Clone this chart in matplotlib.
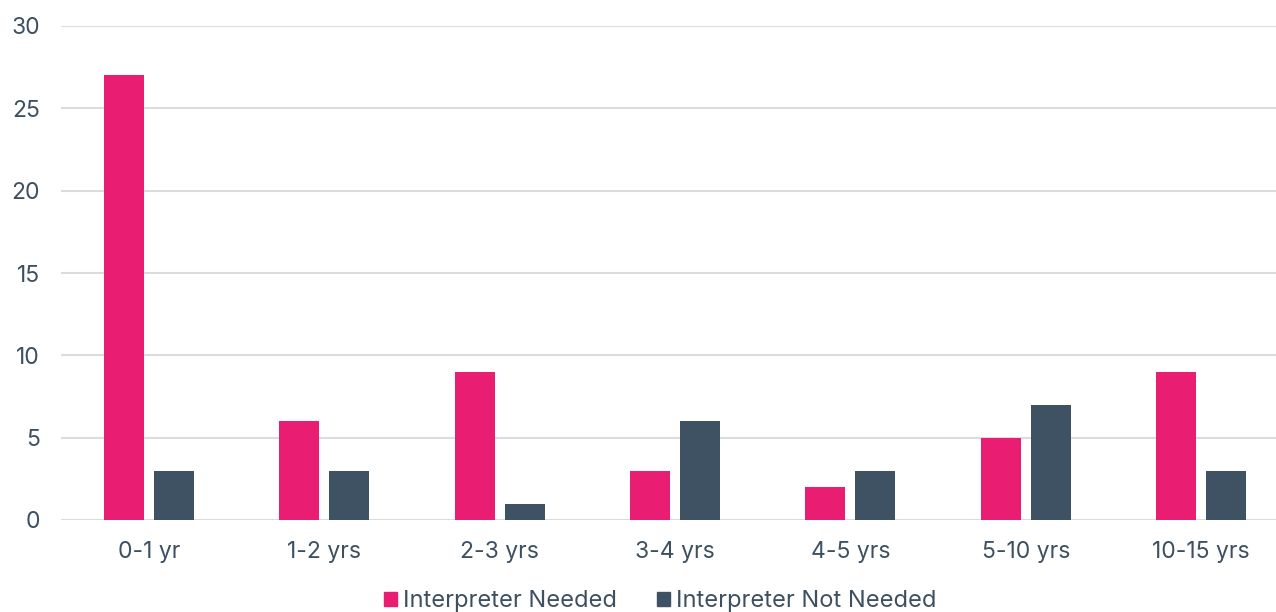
import matplotlib.pyplot as plt
import numpy as np
from matplotlib.patches import Patch

categories = ['0-1 yr', '1-2 yrs', '2-3 yrs', '3-4 yrs', '4-5 yrs', '5-10 yrs', '10-15 yrs']
needed = [27, 6, 9, 3, 2, 5, 9]
not_needed = [3, 3, 1, 6, 3, 7, 3]

pink = '#E91E73'
slate = '#3F5263'
text_color = '#3E5060'

plt.rcParams['font.family'] = ['Inter', 'DejaVu Sans']

fig = plt.figure(figsize=(12.76, 6.12), dpi=100)
ax = fig.add_axes([61 / 1276, 1 - 520 / 612, (1289 - 61) / 1276, (520 - 26) / 612])

x = np.arange(len(categories))
w = 0.228
ax.bar(x - 0.1425, needed, w, color=pink, label='Interpreter Needed', zorder=3)
ax.bar(x + 0.1425, not_needed, w, color=slate, label='Interpreter Not Needed', zorder=3)

ax.set_xlim(-0.5, len(categories) - 0.5)
ax.set_ylim(0, 30)
ax.set_yticks(range(0, 31, 5))
ax.set_xticks(x)
ax.set_xticklabels(categories)
ax.grid(axis='y', color='#dcdcdc', linewidth=1.5, zorder=0)
for s in ax.spines.values():
    s.set_visible(False)
ax.tick_params(axis='both', length=0, labelsize=16.5, labelcolor=text_color)
ax.tick_params(axis='y', pad=15)
ax.tick_params(axis='x', pad=15)

handles = [Patch(color=pink), Patch(color=slate)]
fig.legend(handles, ['Interpreter Needed', 'Interpreter Not Needed'],
           loc='center', bbox_to_anchor=(660 / 1276, 1 - 601 / 612), ncol=2,
           frameon=False, fontsize=17, labelcolor=text_color,
           handlelength=0.55, handleheight=0.55, handletextpad=0.25,
           columnspacing=1.7)

fig.savefig('out.png', dpi=100)
